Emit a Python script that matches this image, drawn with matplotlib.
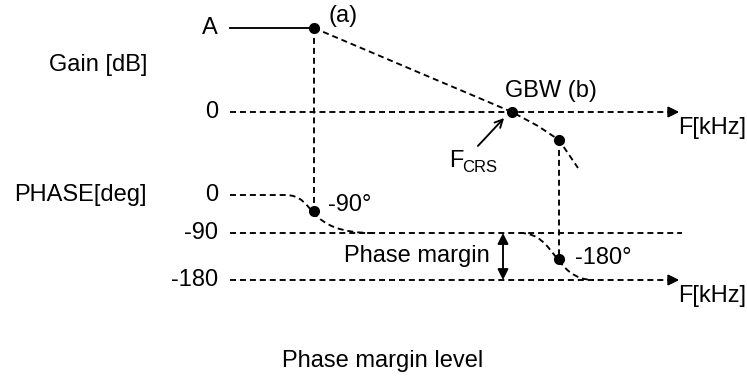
import matplotlib.pyplot as plt
from matplotlib.path import Path
from matplotlib.patches import PathPatch

plt.rcParams['font.family'] = ['Liberation Sans', 'DejaVu Sans']

# diagram in pixel-like units (x right, y down)
gain_labels = ["A", "0"]
gain_levels = [28, 112]
phase_labels = ["0", "-90", "-180"]
phase_levels = [195, 233, 280]

x_start = 230
x_end = 682
f_a = 314           # first pole (a)
f_gbw = 512         # GBW (b)
f_p2 = 559          # second pole

gain_x = [f_a, f_gbw, 538, f_p2, 578]
gain_y = [28, 112, 126, 140, 168]

# bezier control points for the two phase steps
phase1 = [(x_start, 195), (285, 195), (318, 195), (302, 234), (376, 233)]
phase2 = [(520, 233), (556, 233), (554, 280), (594, 280)]

fig = plt.figure(figsize=(7.47, 3.78), dpi=100)
ax = fig.add_axes([0, 0, 1, 1])
ax.set_xlim(0, 747)
ax.set_ylim(378, 0)
ax.axis("off")

fs = 17
lw = 1.35
ls = (0, (3.2, 2.1))
k = "black"

# gain part
ax.plot([x_start, f_a], [gain_levels[0]] * 2, color=k, lw=lw)
ax.plot(gain_x, gain_y, color=k, lw=lw, linestyle=ls)
ax.plot([x_start, x_end - 8], [gain_levels[1]] * 2, color=k, lw=lw, linestyle=ls)
ax.annotate("", xy=(x_end, gain_levels[1]), xytext=(x_end - 10, gain_levels[1]),
            arrowprops=dict(arrowstyle="-|>", color=k, lw=lw, mutation_scale=16))
for lab, y in zip(gain_labels, gain_levels):
    ax.text(218, y, lab, fontsize=fs, ha="right", va="center")
ax.text(147, 65, "Gain [dB]", fontsize=fs, ha="right", va="center")
ax.text(328, 16, "(a)", fontsize=fs, ha="left", va="center")
ax.text(505, 91, "GBW (b)", fontsize=fs, ha="left", va="center")
ax.text(678, 128, "F[kHz]", fontsize=fs, ha="left", va="center")
ax.text(449, 161, "F", fontsize=fs, ha="left", va="center")
ax.text(462, 167, "CRS", fontsize=12, ha="left", va="center")
ax.annotate("", xy=(506, 116), xytext=(476, 148),
            arrowprops=dict(arrowstyle="->", color=k, lw=lw, mutation_scale=14))

# phase part
p1 = Path(phase1, [Path.MOVETO, Path.LINETO, Path.CURVE4, Path.CURVE4, Path.CURVE4])
ax.add_patch(PathPatch(p1, fill=False, edgecolor=k, lw=lw, linestyle=ls))
p2 = Path(phase2, [Path.MOVETO, Path.CURVE4, Path.CURVE4, Path.CURVE4])
ax.add_patch(PathPatch(p2, fill=False, edgecolor=k, lw=lw, linestyle=ls))
ax.plot([x_start, x_end], [phase_levels[1]] * 2, color=k, lw=lw, linestyle=ls)
ax.plot([x_start, x_end - 8], [phase_levels[2]] * 2, color=k, lw=lw, linestyle=ls)
ax.annotate("", xy=(x_end, phase_levels[2]), xytext=(x_end - 10, phase_levels[2]),
            arrowprops=dict(arrowstyle="-|>", color=k, lw=lw, mutation_scale=16))
for lab, y in zip(phase_labels, phase_levels):
    ax.text(218, y, lab, fontsize=fs, ha="right", va="center")
ax.text(147, 195, "PHASE[deg]", fontsize=fs, ha="right", va="center")
ax.text(678, 296, "F[kHz]", fontsize=fs, ha="left", va="center")
ax.text(328, 205, "-90°", fontsize=fs, ha="left", va="center")
ax.text(575, 258, "-180°", fontsize=fs, ha="left", va="center")
ax.text(490, 256, "Phase margin", fontsize=fs, ha="right", va="center")
ax.annotate("", xy=(503, phase_levels[2]), xytext=(503, phase_levels[1]),
            arrowprops=dict(arrowstyle="<|-|>", color=k, lw=lw, mutation_scale=16,
                            shrinkA=0, shrinkB=0))

# verticals and dots
ax.plot([f_a, f_a], [28, 211], color=k, lw=lw, linestyle=ls)
ax.plot([f_p2, f_p2], [140, 259], color=k, lw=lw, linestyle=ls)
ax.plot([f_a, f_gbw, f_p2, f_a, f_p2], [28, 112, 140, 211, 259], "o", color=k, ms=7)

ax.text(383, 361, "Phase margin level", fontsize=fs, ha="center", va="center")

fig.savefig("out.png", dpi=100)
